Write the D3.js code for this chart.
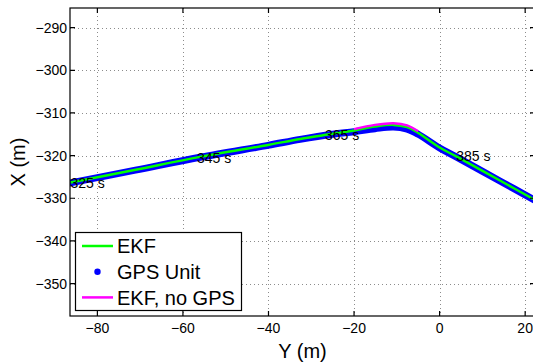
<!DOCTYPE html>
<html lang="en">
  <head>
    <meta charset="utf-8">
    <title>EKF track</title>
    <script src="https://cdn.jsdelivr.net/npm/d3@7/dist/d3.min.js"></script>
    <style>
      body { margin: 0; background: #fff; }
      svg { display: block; font-family: "Liberation Sans", Arial, Helvetica, sans-serif; }
    </style>
  </head>
  <body>
    <div id="chart"></div>
  </body>
</html>

<script>

// trajectory values, [Y (m), X (m)]
const ekf = [
  [-86.3, -326.3], [-71.1, -323.3], [-56.0, -320.3], [-40.1, -317.5],
  [-32.6, -316.1], [-25.0, -314.9], [-20.0, -314.1], [-15.1, -313.2],
  [-10.8, -312.8], [-7.6, -313.3], [-5.0, -314.7], [0.0, -318.1],
  [4.1, -320.3], [14.2, -325.9], [22.3, -330.4]
];
const gps = [
  [-86.3, -326.4], [-71.1, -323.4], [-56.0, -320.4], [-40.1, -317.6],
  [-32.6, -316.2], [-25.0, -315.0], [-20.0, -314.4], [-15.1, -313.7],
  [-10.8, -313.3], [-7.6, -313.8], [-5.0, -315.0], [0.0, -318.2],
  [4.1, -320.4], [14.2, -326.0], [22.3, -330.5]
];
const ekfNoGps = [
  [-20.0, -313.8], [-15.1, -312.8], [-10.8, -312.4], [-7.6, -312.9],
  [-5.0, -314.3]
];
const timeLabels = ["325 s", "345 s", "365 s", "385 s"];
const timeSpots = [[-86.3, -326.4], [-56.7, -320.6], [-26.8, -315.1], [3.9, -320.1]];
const xTicks = [-80, -60, -40, -20, 0, 20];
const yTicks = [-350, -340, -330, -320, -310, -300, -290];
const legendNames = ["EKF", "GPS Unit", "EKF, no GPS"];
const legendColors = ["#00ff00", "#0000ff", "#ff00ff"];

const width = 533, height = 363;
const mLeft = 70, mRight = 535, mTop = 8, mBottom = 316;

const x = d3.scaleLinear().domain([-86.4, 22.3]).range([mLeft, mRight]);
const y = d3.scaleLinear().domain([-357.6, -285.4]).range([mBottom, mTop]);

const svg = d3.select("#chart").append("svg")
  .attr("width", width)
  .attr("height", height);

svg.append("clipPath").attr("id", "clip")
  .append("rect")
  .attr("x", mLeft).attr("y", mTop)
  .attr("width", mRight - mLeft).attr("height", mBottom - mTop);

// grid
const grid = svg.append("g")
  .style("stroke", "#8c8c8c")
  .style("stroke-width", 1)
  .style("stroke-dasharray", "1,3");

grid.selectAll(".gx")
  .data(xTicks)
  .join("line")
  .attr("x1", d => Math.round(x(d)) + 0.5).attr("x2", d => Math.round(x(d)) + 0.5)
  .attr("y1", mTop).attr("y2", mBottom);

grid.selectAll(".gy")
  .data(yTicks)
  .join("line")
  .attr("y1", d => Math.round(y(d)) + 0.5).attr("y2", d => Math.round(y(d)) + 0.5)
  .attr("x1", mLeft).attr("x2", mRight);

// tracks
const line = d3.line().x(d => x(d[0])).y(d => y(d[1])).curve(d3.curveCatmullRom);
const plot = svg.append("g").attr("clip-path", "url(#clip)");

plot.append("path")
  .datum(gps)
  .attr("d", line)
  .style("fill", "none")
  .style("stroke", "#0000ff")
  .style("stroke-width", 7)
  .style("stroke-linecap", "round")
  .style("stroke-linejoin", "round");

plot.append("path")
  .datum(ekf)
  .attr("d", line)
  .style("fill", "none")
  .style("stroke", "#00ff00")
  .style("stroke-width", 2.5);

plot.append("path")
  .datum(ekfNoGps)
  .attr("d", line)
  .style("fill", "none")
  .style("stroke", "#ff00ff")
  .style("stroke-width", 2.5);

// time labels
svg.selectAll(".tl")
  .data(timeLabels)
  .join("text")
  .attr("x", (d, i) => x(timeSpots[i][0]))
  .attr("y", (d, i) => y(timeSpots[i][1]))
  .attr("dy", "0.35em")
  .style("font-size", "14px")
  .text(d => d);

// axes box
const axes = svg.append("g").style("stroke", "#000").style("stroke-width", 1.2);
axes.append("rect")
  .attr("x", mLeft).attr("y", mTop)
  .attr("width", mRight - mLeft).attr("height", mBottom - mTop)
  .style("fill", "none");

axes.selectAll(".tx")
  .data(xTicks)
  .join("path")
  .attr("d", d => `M${x(d)},${mBottom}v-5M${x(d)},${mTop}v5`);

axes.selectAll(".ty")
  .data(yTicks)
  .join("path")
  .attr("d", d => `M${mLeft},${y(d)}h5M${mRight},${y(d)}h-5`);

svg.selectAll(".xl")
  .data(xTicks)
  .join("text")
  .attr("x", d => x(d))
  .attr("y", 333)
  .attr("text-anchor", "middle")
  .style("font-size", "14px")
  .text(d => d < 0 ? "\u2212" + Math.abs(d) : d);

svg.selectAll(".yl")
  .data(yTicks)
  .join("text")
  .attr("x", mLeft - 3)
  .attr("y", d => y(d))
  .attr("dy", "0.36em")
  .attr("text-anchor", "end")
  .style("font-size", "14px")
  .text(d => "\u2212" + Math.abs(d));

svg.append("text")
  .attr("x", (mLeft + mRight) / 2)
  .attr("y", 358)
  .attr("text-anchor", "middle")
  .style("font-size", "20px")
  .text("Y (m)");

svg.append("text")
  .attr("transform", `translate(25,${(mTop + mBottom) / 2}) rotate(-90)`)
  .attr("text-anchor", "middle")
  .style("font-size", "20px")
  .text("X (m)");

// legend
const legend = svg.append("g");
legend.append("rect")
  .attr("x", 75.5).attr("y", 232.5)
  .attr("width", 166).attr("height", 78)
  .style("fill", "#fff")
  .style("stroke", "#000")
  .style("stroke-width", 1.2);

const rows = legend.selectAll(".row")
  .data(legendNames)
  .join("g")
  .attr("transform", (d, i) => `translate(0,${246 + i * 25.7})`);

rows.filter((d, i) => i !== 1).append("line")
  .attr("x1", 82).attr("x2", 113)
  .style("stroke", (d) => legendColors[legendNames.indexOf(d)])
  .style("stroke-width", 2.5);

rows.filter((d, i) => i === 1).append("circle")
  .attr("cx", 97.5).attr("r", 3.2)
  .style("fill", legendColors[1]);

rows.append("text")
  .attr("x", 117)
  .attr("dy", "0.36em")
  .style("font-size", "20px")
  .text(d => d);

</script>
